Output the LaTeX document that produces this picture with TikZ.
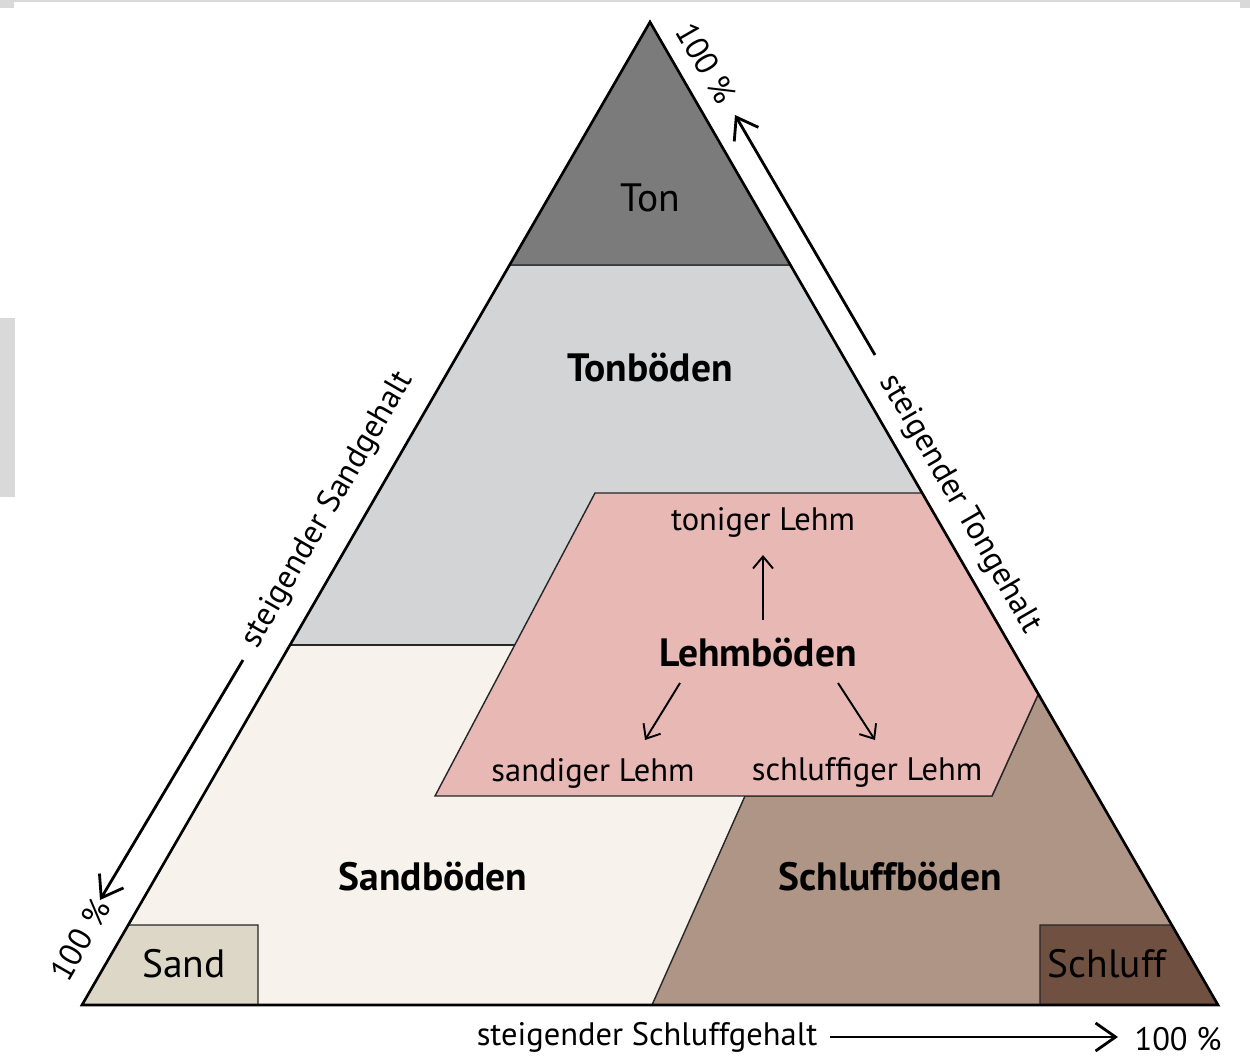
\documentclass[tikz,border=0pt]{standalone}
\usepackage{fontspec}
\setmainfont{PT Sans}
\usetikzlibrary{arrows.meta}
\definecolor{tongray}{HTML}{7B7B7B}
\definecolor{tonboden}{HTML}{D3D4D6}
\definecolor{lehmrose}{HTML}{E8B8B5}
\definecolor{sandboden}{HTML}{F7F3EC}
\definecolor{schluffboden}{HTML}{AE9585}
\definecolor{sandbox}{HTML}{DDD7C7}
\definecolor{schluffbox}{HTML}{6F5041}
\definecolor{framegray}{HTML}{D9D9D9}
\tikzset{
  region/.style={draw=black!85, line width=0.8pt},
  bigtext/.style={font=\fontsize{22.5}{26}\selectfont},
  boldtext/.style={font=\bfseries\fontsize{22.5}{26}\selectfont},
  smalltext/.style={font=\fontsize{18.5}{22}\selectfont},
  axisarrow/.style={line width=1.6pt, -{Straight Barb[length=4mm,width=5.6mm]}},
  lehmarrow/.style={line width=1.1pt, -{Straight Barb[length=2.4mm,width=4mm]}}
}

\begin{document}
\begin{tikzpicture}[x=0.02cm,y=-0.02cm]
\useasboundingbox (0,0) rectangle (1250,1057);
\fill[white] (0,0) rectangle (1250,1057);

% Scan borders at top and left
\fill[framegray] (0,0) rectangle (1250,2.5);
\fill[framegray] (0,0) rectangle (14,8);
\fill[framegray] (1240,0) rectangle (1250,8);
\fill[framegray] (0,318) rectangle (15,497);

% Sandboeden as base of the whole triangle
\fill[sandboden] (650,22) -- (82,1005) -- (1218,1005) -- cycle;

% Tonboeden band
\filldraw[fill=tonboden, region] (509.6,265) -- (790.4,265) -- (1015.6,655) -- (284.4,655) -- cycle;
\fill[sandboden] (284,645.5) rectangle (560,660);
\draw[region] (290,645) -- (515,645);

% Ton at the top
\filldraw[fill=tongray, region] (650,22) -- (509.6,265) -- (790.4,265) -- cycle;

% Schluffboeden
\filldraw[fill=schluffboden, region] (652,1005) -- (745,796) -- (992,796) -- (1038.3,694) -- (1218,1005) -- cycle;

% Lehmboeden
\filldraw[fill=lehmrose, region] (595,493) -- (922,493) -- (1038.3,694) -- (992,796) -- (435,796) -- cycle;

% Corner boxes for Sand and Schluff
\filldraw[fill=sandbox, region] (128.2,925) -- (258,925) -- (258,1005) -- (82,1005) -- cycle;
\filldraw[fill=schluffbox, region] (1040,925) -- (1171.7,925) -- (1218,1005) -- (1040,1005) -- cycle;

% Outline of the triangle
\draw[line width=1.5pt, line join=miter] (650,22) -- (82,1005) -- (1218,1005) -- cycle;

% Region labels
\node[bigtext] (ton) at (650,198) {Ton};
\node[boldtext] (tonboeden) at (650,368) {Tonböden};
\node[boldtext] (lehm) at (758,653) {Lehmböden};
\node[boldtext] (sandboeden) at (433,877) {Sandböden};
\node[boldtext] (schluffboeden) at (890,877) {Schluffböden};
\node[bigtext] (sand) at (184,964) {Sand};
\node[bigtext] (schluff) at (1107,964) {Schluff};

% Kinds of Lehm
\node[smalltext] (tonlehm) at (763,522) {toniger Lehm};
\node[smalltext] (sandlehm) at (593,773) {sandiger Lehm};
\node[smalltext] (schlufflehm) at (867,772) {schluffiger Lehm};
\coordinate (up start) at (763,620);
\coordinate (up tip) at (763,555);
\coordinate (left start) at (680,683);
\coordinate (left tip) at (645,740);
\coordinate (right start) at (838,683);
\coordinate (right tip) at (875,740);
\draw[lehmarrow] (up start) -- (up tip);
\draw[lehmarrow] (left start) -- (left tip);
\draw[lehmarrow] (right start) -- (right tip);

% Axis for sand (left side)
\coordinate (sand tail) at (243,660);
\coordinate (sand tip) at (100,900);
\draw[axisarrow] (sand tail) -- (sand tip);
\node[smalltext, rotate=60] (sandaxis) at (328,510) {steigender Sandgehalt};
\node[smalltext, rotate=60] (sandfull) at (80,940) {100 \%};

% Axis for clay (right side)
\coordinate (ton tail) at (875,355);
\coordinate (ton tip) at (735,115);
\draw[axisarrow] (ton tail) -- (ton tip);
\node[smalltext, rotate=-60] (tonaxis) at (960,504) {steigender Tongehalt};
\node[smalltext, rotate=-60] (tonfull) at (706,63) {100 \%};

% Axis for silt (bottom)
\node[smalltext] (schluffaxis) at (647,1037) {steigender Schluffgehalt};
\coordinate (schluff tail) at (830,1037);
\coordinate (schluff tip) at (1118,1037);
\draw[axisarrow] (schluff tail) -- (schluff tip);
\node[smalltext] (schlufffull) at (1178,1039) {100 \%};
\end{tikzpicture}
\end{document}
